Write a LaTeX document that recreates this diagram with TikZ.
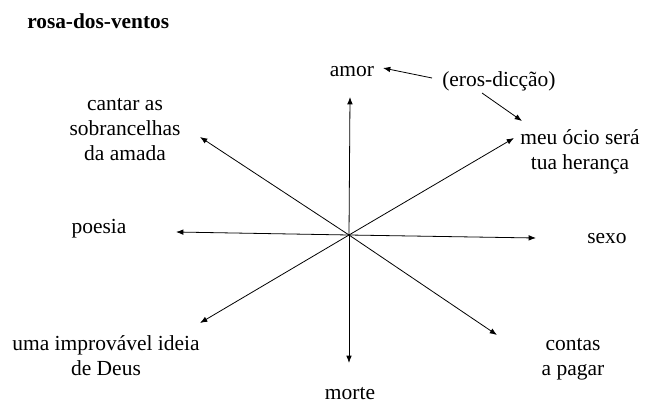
\documentclass[tikz,border=0pt]{standalone}
\usepackage{fontspec}
\setmainfont{Liberation Serif}
\usetikzlibrary{arrows.meta}
\begin{document}
\begin{tikzpicture}[x=0.75pt,y=-0.75pt,
  lbl/.style={font=\fontsize{16.1}{18.75}\selectfont, inner sep=0pt, align=center, anchor=base},
  ttl/.style={font=\fontsize{16}{18}\selectfont\bfseries, inner sep=0pt, anchor=base west},
  arr/.style={line width=0.6pt, -{Latex[length=5.5pt,width=4.2pt]}}]
\useasboundingbox (0,0) rectangle (645,403);
% title
\node[ttl] (title) at (27,29) {rosa-dos-ventos};
% labels (anchor base = baseline of the last line)
\node[lbl] (amor) at (352,76) {amor};
\node[lbl, anchor=base west] (eros) at (442,86) {(eros-dicção)};
\node[lbl] (meu) at (580,169) {meu ócio será\\tua herança};
\node[lbl] (cantar) at (125,160) {cantar as\\sobrancelhas\\da amada};
\node[lbl] (poesia) at (99,233) {poesia};
\node[lbl] (sexo) at (607,243) {sexo};
\node[lbl] (uma) at (106,375) {uma improvável ideia\\de Deus};
\node[lbl] (contas) at (573,375) {contas\\a pagar};
\node[lbl] (morte) at (350,399) {morte};
% centre and arrow tips
\coordinate (c) at (349,235);
\coordinate (tAmor) at (350,97);
\coordinate (tMorte) at (349,363);
\coordinate (tPoesia) at (176,232);
\coordinate (tSexo) at (536,238);
\coordinate (tCantar) at (200,137);
\coordinate (tMeu) at (514,138);
\coordinate (tUma) at (200,323);
\coordinate (tContas) at (497,335);
\coordinate (eA) at (432,78);
\coordinate (eAt) at (383,68);
\coordinate (eB) at (482,93);
\coordinate (eBt) at (522,121);
% compass arrows
\foreach \t in {tAmor,tMorte,tPoesia,tSexo,tCantar,tMeu,tUma,tContas}
  \draw[arr] (c) -- (\t);
% eros arrows
\draw[arr] (eA) -- (eAt);
\draw[arr] (eB) -- (eBt);
\end{tikzpicture}
\end{document}
